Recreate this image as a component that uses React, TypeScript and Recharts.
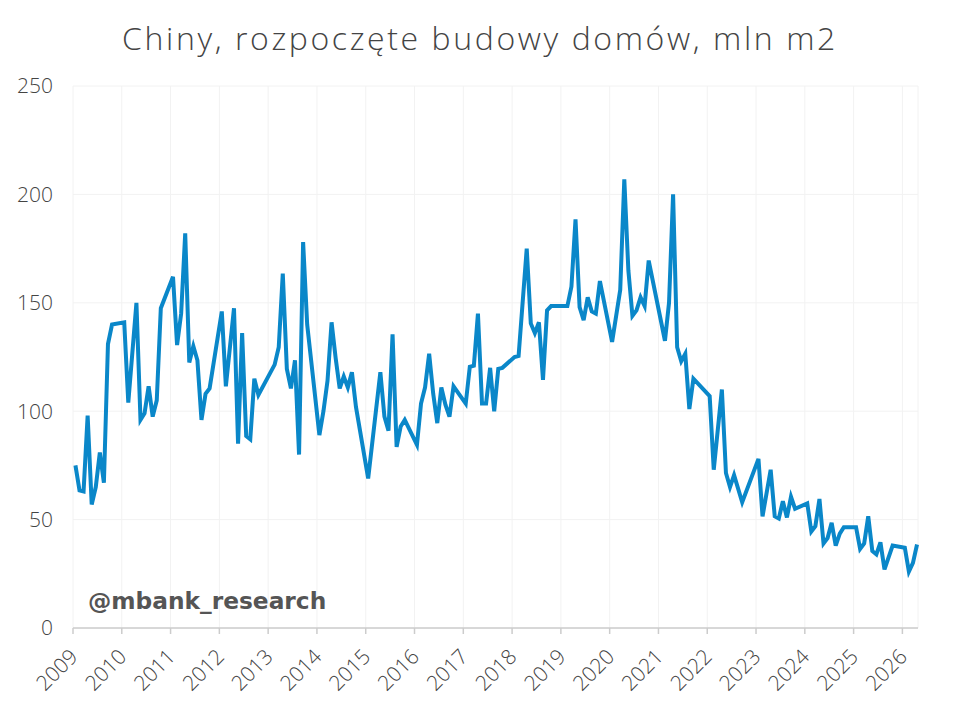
import React from 'react';
import { LineChart, Line, XAxis, YAxis, CartesianGrid } from 'recharts';

// monthly housing starts, China (mln m2)
const months = [
  '2009-01', '2009-02', '2009-03', '2009-04', '2009-05', '2009-06', '2009-07', '2009-08', '2009-09', '2009-10',
  '2010-01', '2010-02', '2010-04', '2010-05', '2010-06', '2010-07', '2010-08', '2010-09', '2010-10',
  '2011-01', '2011-02', '2011-03', '2011-04', '2011-05', '2011-06', '2011-07', '2011-08', '2011-09', '2011-10',
  '2012-01', '2012-02', '2012-04', '2012-05', '2012-06', '2012-07', '2012-08', '2012-09', '2012-10',
  '2013-02', '2013-03', '2013-04', '2013-05', '2013-06', '2013-07', '2013-08', '2013-09', '2013-10',
  '2014-01', '2014-02', '2014-03', '2014-04', '2014-05', '2014-06', '2014-07', '2014-08', '2014-09', '2014-10',
  '2015-01', '2015-04', '2015-05', '2015-06', '2015-07', '2015-08', '2015-09', '2015-10',
  '2016-01', '2016-02', '2016-03', '2016-04', '2016-05', '2016-06', '2016-07', '2016-08', '2016-09', '2016-10',
  '2017-01', '2017-02', '2017-03', '2017-04', '2017-05', '2017-06', '2017-07', '2017-08', '2017-09', '2017-10',
  '2018-01', '2018-02', '2018-04', '2018-05', '2018-06', '2018-07', '2018-08', '2018-09', '2018-10',
  '2019-02', '2019-03', '2019-04', '2019-05', '2019-06', '2019-07', '2019-08', '2019-09', '2019-10',
  '2020-01', '2020-03', '2020-04', '2020-05', '2020-06', '2020-07', '2020-08', '2020-09', '2020-10',
  '2021-02', '2021-03', '2021-04', '2021-05', '2021-06', '2021-07', '2021-08', '2021-09',
  '2022-01', '2022-02', '2022-04', '2022-05', '2022-06', '2022-07', '2022-09',
  '2023-01', '2023-02', '2023-04', '2023-05', '2023-06', '2023-07', '2023-08', '2023-09', '2023-10',
  '2024-01', '2024-02', '2024-03', '2024-04', '2024-05', '2024-06', '2024-07', '2024-08', '2024-09', '2024-10',
  '2025-01', '2025-02', '2025-03', '2025-04', '2025-05', '2025-06', '2025-07', '2025-08', '2025-10',
  '2026-01', '2026-02', '2026-03', '2026-04',
];

const starts = [
  75, 63.5, 63, 98, 57, 65, 81, 67, 131, 140,
  141, 104, 150, 96, 99, 111.5, 97.5, 105, 147.5,
  162, 130.5, 145, 182, 122.5, 130, 123.5, 96, 108, 110.5,
  146, 111.5, 147.5, 85, 136, 88.5, 87, 115, 107.5,
  121.5, 129.5, 163.5, 119.5, 110.5, 123.5, 80, 178, 140,
  89, 100, 114, 141, 124.5, 110.5, 116, 111, 118, 102,
  69, 118, 97.5, 91, 135.5, 83.5, 93, 96,
  84.5, 103.5, 111, 126.5, 108, 94.5, 111, 103, 97.5, 111.5,
  103.5, 120.5, 121, 145, 103.5, 103.5, 120, 100, 119.5, 120,
  125, 125.5, 175, 140.5, 136, 141, 114.5, 146.5, 148.5,
  148.5, 157.5, 188.5, 148, 142, 152.5, 146, 145, 160,
  132, 156, 207, 165, 144, 146.5, 152.5, 148.5, 169.5,
  132.5, 150, 200, 129.5, 123, 126.5, 101, 115,
  107, 73, 110, 71.5, 65, 70.5, 58,
  78, 51.5, 73, 51.5, 50.5, 58.5, 51, 60.5, 55,
  57.5, 44.5, 47, 59.5, 39, 41.5, 48.5, 38, 43.5, 46.5,
  46.5, 36.5, 39, 51.5, 35.5, 34, 39.5, 27, 38,
  37, 26, 30, 38.5,
];

const yearTicks = [2009, 2010, 2011, 2012, 2013, 2014, 2015, 2016, 2017, 2018, 2019, 2020, 2021, 2022, 2023, 2024, 2025, 2026];
const valueTicks = [0, 50, 100, 150, 200, 250];

const data = months.map((m, i) => {
  const [y, mo] = m.split('-').map(Number);
  return { t: y + (mo - 0.4) / 12, value: starts[i] };
});

const FONT = '"Open Sans", sans-serif';

const YearTick = ({ x, y, payload }: any) => {
  const ax = x + 6;
  const ay = y + 22;
  return (
    <text
      x={ax}
      y={ay}
      transform={`rotate(-45, ${ax}, ${ay})`}
      textAnchor="end"
      fontSize={21}
      fontWeight={300}
      fill="#444"
      fontFamily={FONT}
    >
      {payload.value}
    </text>
  );
};

export default function App() {
  return (
    <div style={{ position: 'absolute', left: 0, top: 0, width: 960, height: 712, background: '#fff' }}>
      <div
        style={{
          position: 'absolute',
          top: 21.6,
          left: 0,
          width: 960,
          textAlign: 'center',
          fontFamily: FONT,
          fontSize: 32,
          fontWeight: 300,
          letterSpacing: 2.6,
          lineHeight: '32px',
          color: '#444',
          whiteSpace: 'nowrap',
        }}
      >
        Chiny, rozpoczęte budowy domów, mln m2
      </div>
      <LineChart width={960} height={712} data={data} margin={{ top: 86, right: 42, bottom: 0, left: 0 }}>
        <CartesianGrid stroke="#f2f2f2" strokeWidth={1} />
        <XAxis
          dataKey="t"
          type="number"
          domain={[2009, 2026.32]}
          ticks={yearTicks}
          interval={0}
          height={84}
          axisLine={{ stroke: '#ccc', strokeWidth: 1.5 }}
          tickLine={{ stroke: '#ccc', strokeWidth: 1.5 }}
          tickSize={6}
          tick={<YearTick />}
        />
        <YAxis
          domain={[0, 250]}
          ticks={valueTicks}
          width={73}
          axisLine={false}
          tickLine={false}
          tickSize={0}
          tickMargin={20}
          tick={{ fontSize: 21, fontWeight: 300, fill: '#444', fontFamily: FONT }}
        />
        <Line
          type="linear"
          dataKey="value"
          stroke="#0a87c9"
          strokeWidth={4}
          dot={false}
          isAnimationActive={false}
        />
      </LineChart>
      <div
        style={{
          position: 'absolute',
          left: 88,
          top: 589,
          fontFamily: '"DejaVu Sans", sans-serif',
          fontWeight: 700,
          fontSize: 23.3,
          lineHeight: '24px',
          color: '#555',
        }}
      >
        @mbank_research
      </div>
    </div>
  );
}
